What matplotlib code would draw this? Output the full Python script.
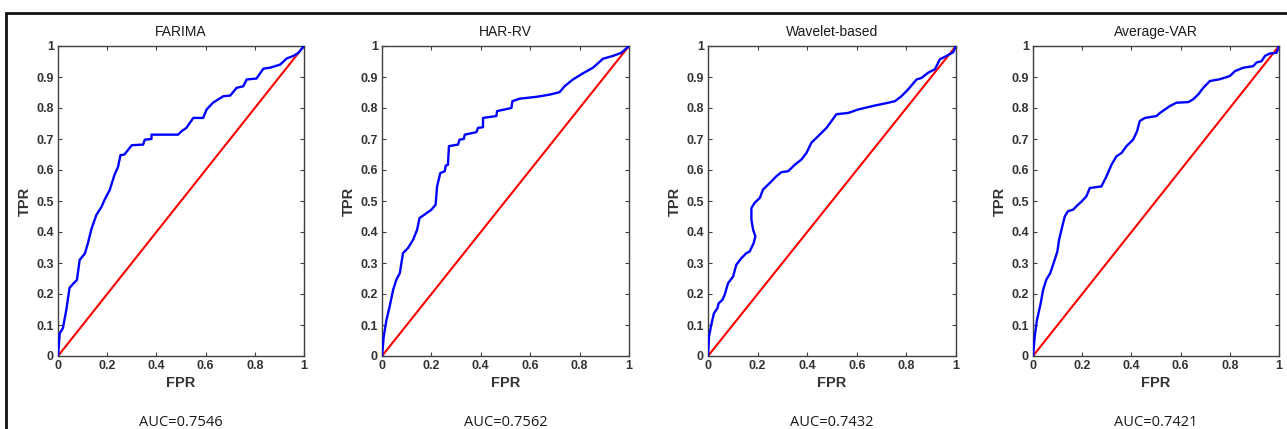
import matplotlib
matplotlib.use("Agg")
import matplotlib.pyplot as plt
from matplotlib.patches import Rectangle

# ROC curves (FPR, TPR) for each volatility model
titles = ["FARIMA", "HAR-RV", "Wavelet-based", "Average-VAR"]
auc_values = [0.7546, 0.7562, 0.7432, 0.7421]

farima_fpr = [0, 0.007, 0.02, 0.034, 0.047, 0.064, 0.077, 0.088, 0.109, 0.122, 0.136, 0.156,
              0.176, 0.19, 0.21, 0.23, 0.244, 0.254, 0.27, 0.285, 0.3, 0.346, 0.353, 0.38, 0.38,
              0.414, 0.488, 0.502, 0.522, 0.55, 0.59, 0.604, 0.63, 0.672, 0.70, 0.726, 0.753,
              0.767, 0.807, 0.835, 0.862, 0.903, 0.93, 0.957, 0.977, 1.0]
farima_tpr = [0, 0.073, 0.09, 0.15, 0.22, 0.235, 0.245, 0.31, 0.33, 0.365, 0.41, 0.455,
              0.48, 0.505, 0.535, 0.585, 0.61, 0.648, 0.65, 0.665, 0.68, 0.682, 0.698, 0.70, 0.714,
              0.714, 0.714, 0.725, 0.736, 0.768, 0.768, 0.795, 0.817, 0.838, 0.84, 0.865, 0.87,
              0.892, 0.895, 0.927, 0.93, 0.94, 0.96, 0.968, 0.978, 1.0]

harrv_fpr = [0, 0.007, 0.018, 0.031, 0.045, 0.058, 0.072, 0.085, 0.105, 0.126, 0.142, 0.152,
             0.172, 0.2, 0.217, 0.223, 0.236, 0.254, 0.258, 0.267, 0.271, 0.308, 0.314, 0.331,
             0.335, 0.382, 0.389, 0.409, 0.409, 0.463, 0.466, 0.524, 0.528, 0.557, 0.625, 0.678,
             0.719, 0.739, 0.773, 0.814, 0.854, 0.895, 0.935, 0.969, 1.0]
harrv_tpr = [0, 0.0625, 0.116, 0.16, 0.213, 0.246, 0.267, 0.332, 0.348, 0.375, 0.407, 0.445,
             0.456, 0.472, 0.488, 0.547, 0.59, 0.596, 0.614, 0.617, 0.677, 0.682, 0.698, 0.70,
             0.714, 0.722, 0.736, 0.738, 0.768, 0.774, 0.79, 0.80, 0.822, 0.83, 0.836, 0.843,
             0.851, 0.87, 0.892, 0.912, 0.93, 0.959, 0.968, 0.978, 1.0]

wavelet_fpr = [0, 0.004, 0.013, 0.024, 0.038, 0.043, 0.058, 0.067, 0.081, 0.101, 0.114, 0.135,
               0.155, 0.168, 0.184, 0.191, 0.182, 0.175, 0.175, 0.188, 0.209, 0.222, 0.249,
               0.276, 0.296, 0.323, 0.35, 0.377, 0.397, 0.417, 0.444, 0.478, 0.498, 0.518,
               0.565, 0.605, 0.673, 0.727, 0.754, 0.78, 0.807, 0.841, 0.861, 0.888, 0.915,
               0.935, 0.962, 0.989, 1.0]
wavelet_tpr = [0, 0.0625, 0.10, 0.138, 0.154, 0.17, 0.181, 0.197, 0.235, 0.256, 0.294, 0.316,
               0.332, 0.337, 0.364, 0.386, 0.407, 0.44, 0.477, 0.494, 0.51, 0.537, 0.558,
               0.58, 0.593, 0.596, 0.617, 0.634, 0.655, 0.688, 0.709, 0.736, 0.758, 0.78,
               0.784, 0.795, 0.808, 0.817, 0.822, 0.838, 0.86, 0.892, 0.897, 0.914, 0.925,
               0.957, 0.968, 0.98, 1.0]

avgvar_fpr = [0, 0.007, 0.016, 0.03, 0.041, 0.054, 0.07, 0.088, 0.099, 0.106, 0.119, 0.129,
              0.142, 0.163, 0.183, 0.197, 0.217, 0.231, 0.278, 0.299, 0.319, 0.339, 0.36, 0.38,
              0.407, 0.423, 0.434, 0.455, 0.502, 0.516, 0.536, 0.556, 0.583, 0.631, 0.651,
              0.672, 0.692, 0.719, 0.76, 0.80, 0.821, 0.855, 0.895, 0.909, 0.929, 0.943, 0.963,
              0.99, 1.0]
avgvar_tpr = [0, 0.0625, 0.116, 0.165, 0.213, 0.246, 0.267, 0.31, 0.337, 0.375, 0.418, 0.45,
              0.467, 0.472, 0.488, 0.498, 0.515, 0.542, 0.547, 0.58, 0.617, 0.644, 0.655, 0.677,
              0.698, 0.725, 0.758, 0.768, 0.774, 0.784, 0.795, 0.806, 0.817, 0.819, 0.828,
              0.844, 0.865, 0.887, 0.893, 0.903, 0.919, 0.93, 0.935, 0.947, 0.951, 0.968, 0.976,
              0.978, 1.0]

curves = [(farima_fpr, farima_tpr), (harrv_fpr, harrv_tpr),
          (wavelet_fpr, wavelet_tpr), (avgvar_fpr, avgvar_tpr)]
ticks = [0, 0.2, 0.4, 0.6, 0.8, 1]
yticks = [0, 0.1, 0.2, 0.3, 0.4, 0.5, 0.6, 0.7, 0.8, 0.9, 1]
tick_labels_x = ["0", "0.2", "0.4", "0.6", "0.8", "1"]
tick_labels_y = ["0", "0.1", "0.2", "0.3", "0.4", "0.5", "0.6", "0.7", "0.8", "0.9", "1"]

W, H = 1287, 429
fig = plt.figure(figsize=(W / 100, H / 100), dpi=100)
fig.patch.set_facecolor("white")

# axes placement in pixels: (left, right) edges; shared top/bottom
lefts = [58, 382, 708, 1033]
widths = [246, 247, 248, 246]
top_px, bottom_px = 46, 356

font = "Liberation Sans"
for i, (title, (fpr, tpr), auc) in enumerate(zip(titles, curves, auc_values)):
    ax = fig.add_axes([lefts[i] / W, (H - bottom_px) / H, widths[i] / W,
                       (bottom_px - top_px) / H])
    ax.plot([0, 1], [0, 1], color="#ff0000", lw=1.5, zorder=2)
    ax.plot(fpr, tpr, color="#0000ff", lw=1.7, zorder=3)
    ax.set_xlim(0, 1)
    ax.set_ylim(0, 1)
    ax.set_xticks(ticks)
    ax.set_xticklabels(tick_labels_x)
    ax.set_yticks(yticks)
    ax.set_yticklabels(tick_labels_y)
    ax.tick_params(direction="in", length=3, width=0.8, color="#404040",
                   top=True, right=True, labelsize=9, labelcolor="#333333", pad=3)
    for lab in ax.get_xticklabels() + ax.get_yticklabels():
        lab.set_fontfamily(font)
        lab.set_fontweight("bold")
    for sp in ax.spines.values():
        sp.set_color("#404040")
        sp.set_linewidth(1.0)
    ax.set_title(title, fontsize=10, family=font, color="#1a1a1a", pad=7)
    ax.set_xlabel("FPR", fontsize=10.5, family=font, fontweight="bold",
                  color="#333333", labelpad=3)
    ax.set_ylabel("TPR", fontsize=10.5, family=font, fontweight="bold",
                  color="#333333", labelpad=3)
    cx = (lefts[i] + widths[i] / 2) / W
    fig.text(cx, (H - 426) / H, f"AUC={auc:.4f}", ha="center", va="baseline",
             fontsize=10.5, family="Open Sans", color="#1a1a1a")

# frame around the figure panel
frame = Rectangle((6 / W, -0.05), 1.2, 1 - 13.5 / H + 0.05, transform=fig.transFigure,
                  fill=False, edgecolor="#111111", lw=2.0, clip_on=False)
fig.add_artist(frame)

fig.savefig("out.png", dpi=100, facecolor="white")
